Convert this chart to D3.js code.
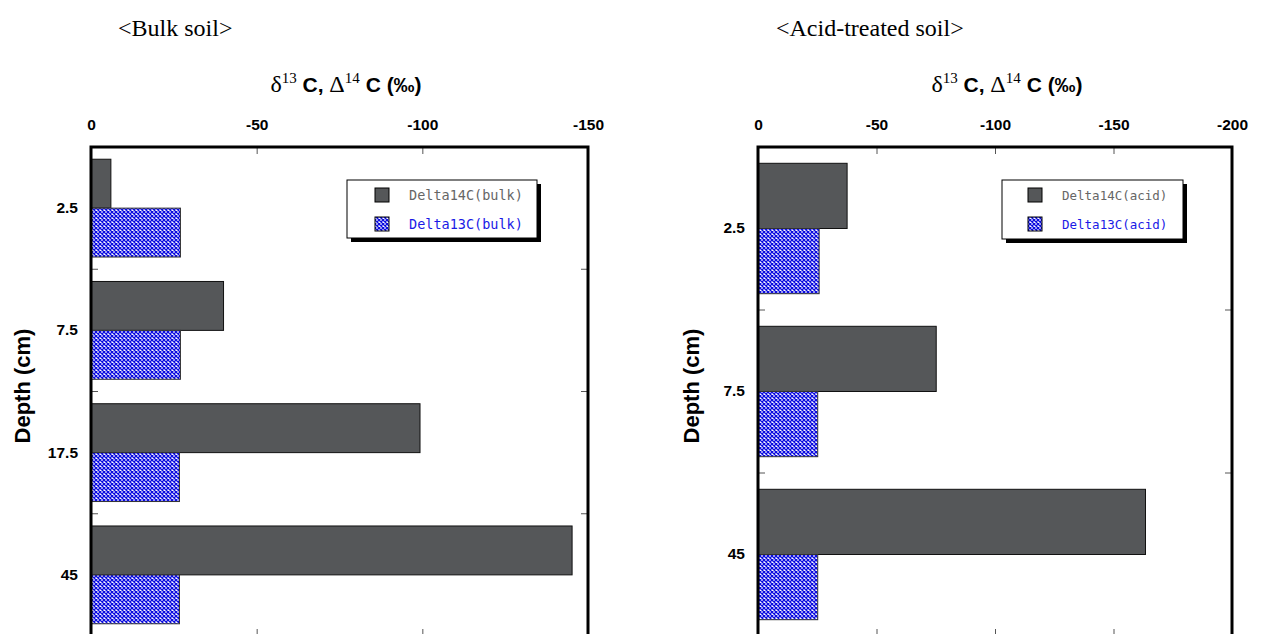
<!DOCTYPE html>
<html>
<head>
<meta charset="utf-8">
<script src="https://cdn.jsdelivr.net/npm/d3@7"></script>
<style>
  body { margin: 0; background: #fff; }
</style>
</head>
<body>
<div id="chart"></div>
<script>
// Chart data
var bulkDepths = ["2.5", "7.5", "17.5", "45"];
var bulkDelta14C = [-6, -40, -99.3, -145.2];
var bulkDelta13C = [-27, -27, -26.7, -26.7];

var acidDepths = ["2.5", "7.5", "45"];
var acidDelta14C = [-37.6, -75.2, -163.5];
var acidDelta13C = [-25.8, -25.2, -25.2];

var bulkTicks = [0, -50, -100, -150];
var acidTicks = [0, -50, -100, -150, -200];

var svgWidth = 1262;
var svgHeight = 634;

var svg = d3.select("#chart")
  .append("svg")
  .attr("width", svgWidth)
  .attr("height", svgHeight);

// Crosshatch pattern for the delta13C bars
var pattern = svg.append("defs").append("pattern")
  .attr("id", "hatch")
  .attr("patternUnits", "userSpaceOnUse")
  .attr("width", 4)
  .attr("height", 4);
pattern.append("rect").attr("width", 4).attr("height", 4).attr("fill", "#fff");
pattern.append("path")
  .attr("d", "M0,0 L4,4 M4,0 L0,4")
  .attr("stroke", "#0c0ce0")
  .attr("stroke-width", 1.3);

var gray = "#555759";
var sansFont = "Liberation Sans, Arial, sans-serif";

function styleLabels(a) {
  a.select(".domain").remove();
  a.selectAll("text")
    .attr("fill", "#000")
    .style("font-size", "15.5px")
    .style("font-weight", "bold")
    .style("font-family", sansFont);
}

function drawPanel(opts) {
  var xScale = d3.scaleLinear()
    .domain(opts.domain)
    .range([opts.left, opts.right]);

  var yScale = d3.scaleBand()
    .domain(opts.depths)
    .range([opts.top, opts.bottom])
    .paddingInner(0.2)
    .paddingOuter(0.1);

  var step = yScale.step();
  var subScale = d3.scaleBand()
    .domain(["d14", "d13"])
    .range([0, yScale.bandwidth()]);

  var rows = opts.depths.map(function(d, i) {
    return { depth: d, d14: opts.d14[i], d13: opts.d13[i] };
  });

  var g = svg.append("g");

  // Bars
  g.selectAll(".bar14").data(rows).enter().append("rect")
    .attr("x", xScale(0))
    .attr("y", d => yScale(d.depth) + subScale("d14"))
    .attr("width", d => xScale(d.d14) - xScale(0))
    .attr("height", subScale.bandwidth())
    .attr("fill", gray)
    .attr("stroke", "#111")
    .attr("stroke-width", 1);

  g.selectAll(".bar13").data(rows).enter().append("rect")
    .attr("x", xScale(0))
    .attr("y", d => yScale(d.depth) + subScale("d13"))
    .attr("width", d => xScale(d.d13) - xScale(0))
    .attr("height", subScale.bandwidth())
    .attr("fill", "url(#hatch)")
    .attr("stroke", "#333")
    .attr("stroke-width", 1);

  // Top axis labels (plain hyphen minus, like the original)
  g.append("g")
    .attr("transform", `translate(0, ${opts.top})`)
    .call(d3.axisTop(xScale).tickValues(opts.ticks).tickSize(0).tickPadding(17)
      .tickFormat(d => String(d)))
    .call(styleLabels);

  var inner = opts.ticks.slice(1, -1);

  // Inward ticks on top and bottom
  g.append("g")
    .attr("transform", `translate(0, ${opts.top})`)
    .call(d3.axisTop(xScale).tickValues(inner).tickSize(-7).tickFormat(""))
    .call(function(a) { a.select(".domain").remove(); a.selectAll("line").attr("stroke", "#555"); });
  g.append("g")
    .attr("transform", `translate(0, ${opts.bottom})`)
    .call(d3.axisBottom(xScale).tickValues(inner).tickSize(-7).tickFormat(""))
    .call(function(a) { a.select(".domain").remove(); a.selectAll("line").attr("stroke", "#555"); });

  // Depth labels
  g.append("g")
    .attr("transform", `translate(${opts.left}, 0)`)
    .call(d3.axisLeft(yScale).tickSize(0).tickPadding(13))
    .call(styleLabels);

  // Ticks between the depth bands, on both sides
  var bounds = opts.depths.slice(0, -1).map(function(d) {
    return yScale(d) + yScale.bandwidth() + step * 0.1;
  });
  g.selectAll(".ltick").data(bounds).enter().append("line")
    .attr("x1", opts.left).attr("x2", opts.left + 7)
    .attr("y1", d => d).attr("y2", d => d)
    .attr("stroke", "#555");
  g.selectAll(".rtick").data(bounds).enter().append("line")
    .attr("x1", opts.right - 7).attr("x2", opts.right)
    .attr("y1", d => d).attr("y2", d => d)
    .attr("stroke", "#555");

  // Frame (bottom edge runs just past the window)
  g.append("rect")
    .attr("x", opts.left)
    .attr("y", opts.top)
    .attr("width", opts.right - opts.left)
    .attr("height", opts.bottom + 5 - opts.top)
    .attr("fill", "none")
    .attr("stroke", "#000")
    .attr("stroke-width", 3);

  // Panel caption
  g.append("text")
    .attr("x", opts.captionX)
    .attr("y", 36)
    .attr("font-family", "Liberation Serif, Times New Roman, serif")
    .attr("font-size", "24px")
    .text(opts.caption);

  // Axis title
  var title = g.append("text")
    .attr("x", opts.titleX)
    .attr("y", 92)
    .attr("text-anchor", "middle")
    .attr("font-size", "21px")
    .attr("font-weight", "bold")
    .attr("font-family", sansFont);
  title.append("tspan").attr("font-family", "Liberation Serif, serif").attr("font-weight", "normal").attr("font-size", "24px").text("δ");
  title.append("tspan").attr("font-family", "Liberation Serif, serif").attr("font-weight", "normal").attr("font-size", "15px").attr("dy", -9).text("13");
  title.append("tspan").attr("dy", 9).text(" C, ");
  title.append("tspan").attr("font-family", "Liberation Serif, serif").attr("font-weight", "normal").attr("font-size", "24px").text("Δ");
  title.append("tspan").attr("font-family", "Liberation Serif, serif").attr("font-weight", "normal").attr("font-size", "15px").attr("dy", -9).text("14");
  title.append("tspan").attr("dy", 9).text(" C (‰)");

  // Y axis title
  g.append("text")
    .attr("transform", `translate(${opts.yTitleX}, 386) rotate(-90)`)
    .attr("text-anchor", "middle")
    .attr("font-size", "22px")
    .attr("font-weight", "bold")
    .attr("font-family", sansFont)
    .text("Depth (cm)");

  // Legend with drop shadow
  var lg = g.append("g").attr("transform", `translate(${opts.legend.x}, ${opts.legend.y})`);
  lg.append("rect")
    .attr("x", 4).attr("y", 4)
    .attr("width", opts.legend.w).attr("height", opts.legend.h)
    .attr("fill", "#000");
  lg.append("rect")
    .attr("width", opts.legend.w).attr("height", opts.legend.h)
    .attr("fill", "#fff").attr("stroke", "#000").attr("stroke-width", 1);
  var items = [
    { label: "Delta14C(" + opts.tag + ")", fill: gray, color: "#666" },
    { label: "Delta13C(" + opts.tag + ")", fill: "url(#hatch)", color: "#1a1ae6" }
  ];
  items.forEach(function(it, i) {
    var cy = 15 + i * 29;
    lg.append("rect")
      .attr("x", opts.legend.mx).attr("y", cy - 7)
      .attr("width", 14).attr("height", 14)
      .attr("fill", it.fill).attr("stroke", "#000").attr("stroke-width", 1);
    lg.append("text")
      .attr("x", opts.legend.tx).attr("y", cy + 5)
      .attr("font-family", "DejaVu Sans Mono, monospace")
      .attr("font-size", opts.legend.fs)
      .attr("fill", it.color)
      .text(it.label);
  });
}

drawPanel({
  depths: bulkDepths, d14: bulkDelta14C, d13: bulkDelta13C,
  domain: [0, -150], ticks: bulkTicks,
  left: 91, right: 588, top: 147, bottom: 636,
  caption: "<Bulk soil>", captionX: 118, titleX: 346, yTitleX: 30,
  tag: "bulk",
  legend: { x: 347, y: 180, w: 190, h: 58, mx: 28, tx: 62, fs: "13.5px" }
});

drawPanel({
  depths: acidDepths, d14: acidDelta14C, d13: acidDelta13C,
  domain: [0, -200], ticks: acidTicks,
  left: 758, right: 1232, top: 147, bottom: 636,
  caption: "<Acid-treated soil>", captionX: 776, titleX: 1007, yTitleX: 699,
  tag: "acid",
  legend: { x: 1002, y: 180, w: 181, h: 59, mx: 26, tx: 60, fs: "12.5px" }
});
</script>
</body>
</html>
